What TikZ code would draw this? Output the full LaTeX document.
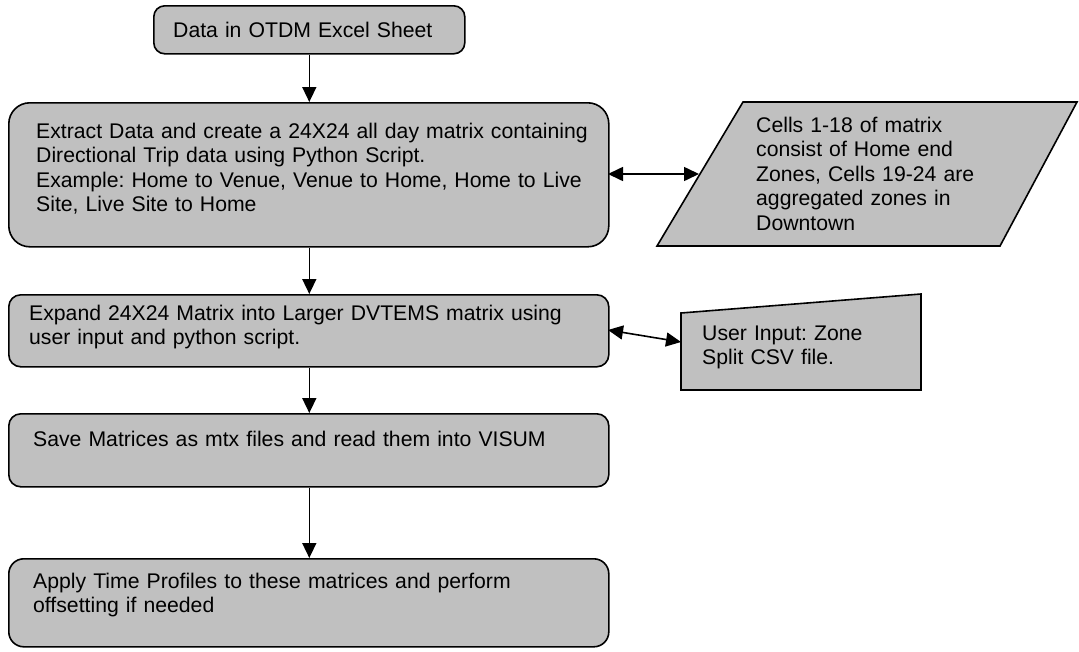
\documentclass[tikz,border=0pt]{standalone}
\usepackage{fontspec}
\setmainfont{Liberation Sans}
\usetikzlibrary{arrows.meta}
\definecolor{boxgray}{HTML}{C0C0C0}
\frenchspacing
\tikzset{
  x=1pt, y=-1pt,
  shapeline/.style={draw=black, line width=1.6pt, fill=boxgray},
  procbox/.style={shapeline, rectangle, inner sep=0pt, anchor=north west},
  txt/.style={inner sep=0pt, anchor=base west, align=left, text width=#1,
    font=\fontsize{21.2}{24.6}\selectfont},
  flow/.style={draw=black, line width=1.6pt, -{Triangle[length=15pt,width=14pt]}},
  both/.style={draw=black, line width=1.6pt,
    {Triangle[length=15pt,width=14pt]}-{Triangle[length=15pt,width=14pt]}}
}
\begin{document}
\begin{tikzpicture}
\useasboundingbox (0,0) rectangle (1079,651);

% main process boxes
\node[procbox, rounded corners=11pt, minimum width=311pt, minimum height=48pt] (b1) at (153,5) {};
\node[procbox, rounded corners=21pt, minimum width=600pt, minimum height=144pt] (b2) at (8,102) {};
\node[procbox, rounded corners=12pt, minimum width=600pt, minimum height=72pt] (b3) at (8,294) {};
\node[procbox, rounded corners=12pt, minimum width=600pt, minimum height=73pt] (b4) at (8,413) {};
\node[procbox, rounded corners=15pt, minimum width=600pt, minimum height=88pt] (b5) at (8,558) {};

% texts of the process boxes
\node[txt=300pt] (t1) at (173,37) {Data in OTDM Excel Sheet};
\node[txt=580pt] (t2) at (36,138) {Extract Data and create a 24X24 all day matrix containing\\
Directional Trip data using Python Script.\\
Example: Home to Venue, Venue to Home, Home to Live\\
Site, Live Site to Home};
\node[txt=580pt] (t3) at (29,320) {Expand 24X24 Matrix into Larger DVTEMS matrix using\\
user input and python script.};
\node[txt=580pt] (t4) at (33,446) {Save Matrices as mtx files and read them into VISUM};
\node[txt=580pt] (t5) at (33,588) {Apply Time Profiles to these matrices and perform\\
offsetting if needed};

% data shape (parallelogram)
\filldraw[shapeline] (743,102) -- (1077,102) -- (1000,246) -- (657,246) -- cycle;
\coordinate (pin) at (699,174);
\node[txt=300pt] (tp) at (756,132) {Cells 1-18 of matrix\\
consist of Home end\\
Zones, Cells 19-24 are\\
aggregated zones in\\
Downtown};

% manual input shape
\filldraw[shapeline] (681,313) -- (921,294) -- (921,390) -- (681,390) -- cycle;
\coordinate (uin) at (681,342);
\node[txt=220pt] (tu) at (702,340) {User Input: Zone\\
Split CSV file.};

% connectors
\coordinate (b2r) at (608,174);
\coordinate (b3r) at (608,330);
\draw[flow] (b1.south) -- (b2.north -| b1.south);
\draw[flow] (b2.south -| b1.south) -- (b3.north -| b1.south);
\draw[flow] (b3.south -| b1.south) -- (b4.north -| b1.south);
\draw[flow] (b4.south -| b1.south) -- (b5.north -| b1.south);
\draw[both] (b2r) -- (pin);
\draw[both] (b3r) -- (uin);
\end{tikzpicture}
\end{document}
